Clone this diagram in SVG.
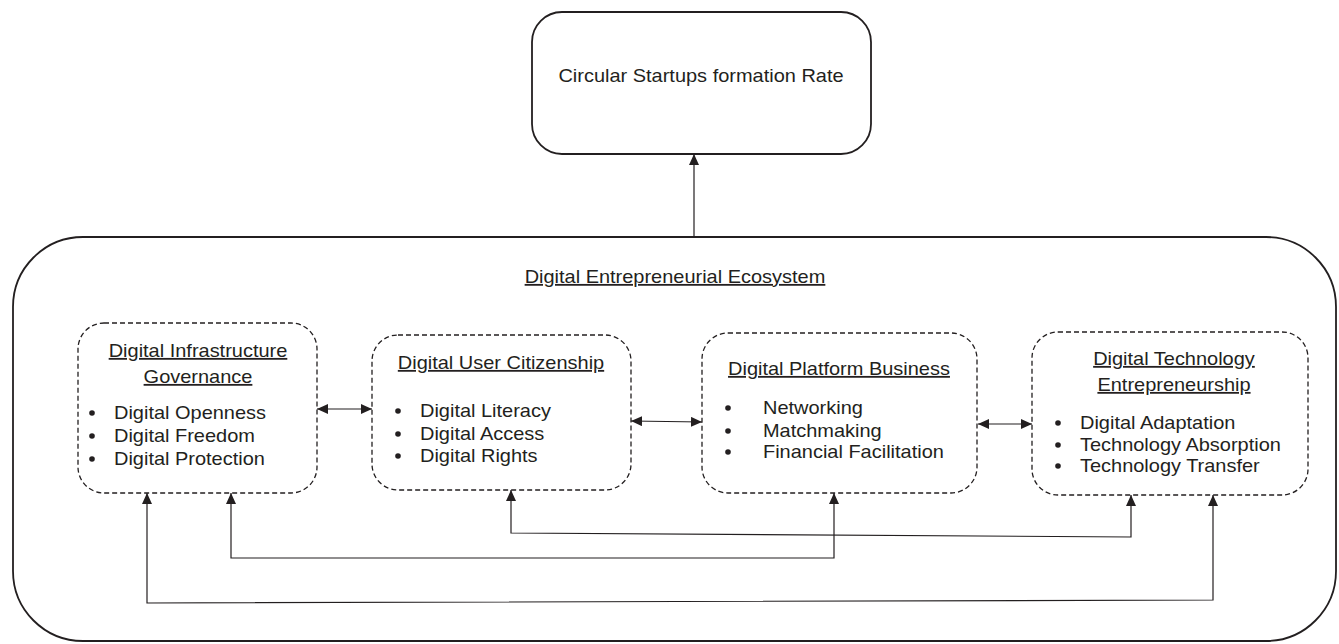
<svg xmlns="http://www.w3.org/2000/svg" width="1339" height="644" viewBox="0 0 1339 644">
  <defs>
    <marker id="arrow" viewBox="0 0 11 10" refX="11" refY="5" markerWidth="11" markerHeight="10" markerUnits="userSpaceOnUse" orient="auto-start-reverse">
      <path d="M0,0 L11,5 L0,10 z" fill="#231f20"/>
    </marker>
  </defs>
  <style>
    text { font-family: "Liberation Sans", Arial, sans-serif; font-size: 18px; fill: #231f20; transform-box: fill-box; }
    .c { text-anchor: middle; transform: scaleX(1.11); transform-origin: 50% 50%; }
    .l { text-anchor: start; transform: scaleX(1.11); transform-origin: 0% 50%; }
    .u { text-decoration: underline; }
    .solid { fill: #fff; stroke: #231f20; stroke-width: 1.8; }
    .dash { fill: #fff; stroke: #231f20; stroke-width: 1.3; stroke-dasharray: 5 3; }
    .wire { fill: none; stroke: #231f20; stroke-width: 1.2; }
    .dot { fill: #231f20; }
  </style>
  <rect width="1339" height="644" fill="#fff"/>

  <!-- outcome -->
  <g id="startups-rate">
    <rect class="solid" x="532" y="12" width="339" height="142" rx="30"/>
    <text class="c" x="701" y="82">Circular Startups formation Rate</text>
  </g>

  <!-- ecosystem container -->
  <g id="ecosystem">
    <rect class="solid" x="13" y="237" width="1323" height="404" rx="70"/>
    <text class="c u" x="675" y="283">Digital Entrepreneurial Ecosystem</text>
  </g>

  <g id="infrastructure-governance">
    <rect class="dash" x="78" y="323" width="239" height="170" rx="26"/>
    <text class="c u" x="198" y="357">Digital Infrastructure</text>
    <text class="c u" x="198" y="383">Governance</text>
    <circle class="dot" cx="92" cy="413" r="2.8"/>
    <circle class="dot" cx="92" cy="436" r="2.8"/>
    <circle class="dot" cx="92" cy="459" r="2.8"/>
    <text class="l" x="114" y="419">Digital Openness</text>
    <text class="l" x="114" y="442">Digital Freedom</text>
    <text class="l" x="114" y="465">Digital Protection</text>
  </g>

  <g id="user-citizenship">
    <rect class="dash" x="372" y="335" width="259" height="155" rx="26"/>
    <text class="c u" x="501" y="369">Digital User Citizenship</text>
    <circle class="dot" cx="398" cy="411" r="2.8"/>
    <circle class="dot" cx="398" cy="434" r="2.8"/>
    <circle class="dot" cx="398" cy="456" r="2.8"/>
    <text class="l" x="420" y="417">Digital Literacy</text>
    <text class="l" x="420" y="440">Digital Access</text>
    <text class="l" x="420" y="462">Digital Rights</text>
  </g>

  <g id="platform-business">
    <rect class="dash" x="702" y="333" width="275" height="160" rx="26"/>
    <text class="c u" x="839" y="375">Digital Platform Business</text>
    <circle class="dot" cx="728" cy="408" r="2.8"/>
    <circle class="dot" cx="728" cy="431" r="2.8"/>
    <circle class="dot" cx="728" cy="452" r="2.8"/>
    <text class="l" x="763" y="414">Networking</text>
    <text class="l" x="763" y="437">Matchmaking</text>
    <text class="l" x="763" y="458">Financial Facilitation</text>
  </g>

  <g id="technology-entrepreneurship">
    <rect class="dash" x="1032" y="332" width="276" height="163" rx="26"/>
    <text class="c u" x="1174" y="365">Digital Technology</text>
    <text class="c u" x="1174" y="391">Entrepreneurship</text>
    <circle class="dot" cx="1058" cy="423" r="2.8"/>
    <circle class="dot" cx="1058" cy="445" r="2.8"/>
    <circle class="dot" cx="1058" cy="466" r="2.8"/>
    <text class="l" x="1080" y="429">Digital Adaptation</text>
    <text class="l" x="1080" y="451">Technology Absorption</text>
    <text class="l" x="1080" y="472">Technology Transfer</text>
  </g>

  <g id="connectors">
    <path class="wire" d="M694,237 L694,154" marker-end="url(#arrow)"/>
    <path class="wire" d="M317,409 L372,409" marker-start="url(#arrow)" marker-end="url(#arrow)"/>
    <path class="wire" d="M631,421 L702,422" marker-start="url(#arrow)" marker-end="url(#arrow)"/>
    <path class="wire" d="M978,424 L1032,424" marker-start="url(#arrow)" marker-end="url(#arrow)"/>
    <path class="wire" d="M511,490 L511,533 L1131,537 L1131,495" marker-start="url(#arrow)" marker-end="url(#arrow)"/>
    <path class="wire" d="M231,493 L231,558 L834,558 L834,493" marker-start="url(#arrow)" marker-end="url(#arrow)"/>
    <path class="wire" d="M147,493 L147,603 L1213,600 L1213,495" marker-start="url(#arrow)" marker-end="url(#arrow)"/>
  </g>
</svg>
